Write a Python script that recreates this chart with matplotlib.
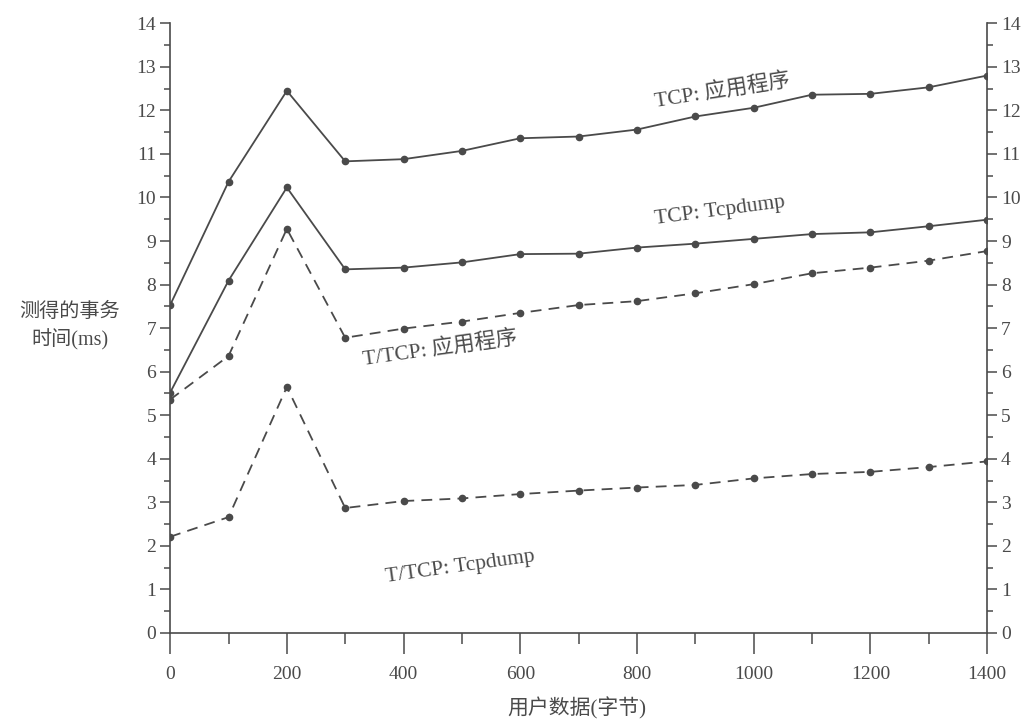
import matplotlib
matplotlib.use("Agg")
import matplotlib.pyplot as plt
from matplotlib.ticker import MultipleLocator

plt.rcParams['font.family'] = ['Liberation Serif', 'Noto Sans CJK SC']

user_bytes = [0, 100, 200, 300, 400, 500, 600, 700, 800, 900, 1000, 1100, 1200, 1300, 1400]
tcp_app = [7.53, 10.36, 12.45, 10.83, 10.88, 11.07, 11.36, 11.40, 11.56, 11.86, 12.06, 12.36, 12.38, 12.53, 12.80]
tcp_dump = [5.52, 8.09, 10.23, 8.35, 8.39, 8.51, 8.70, 8.71, 8.85, 8.94, 9.05, 9.16, 9.20, 9.34, 9.49]
ttcp_app = [5.36, 6.36, 9.28, 6.78, 6.99, 7.15, 7.35, 7.53, 7.62, 7.80, 8.01, 8.26, 8.39, 8.55, 8.77]
ttcp_dump = [2.21, 2.66, 5.65, 2.87, 3.03, 3.09, 3.19, 3.27, 3.34, 3.40, 3.55, 3.65, 3.70, 3.81, 3.94]

labels = ["TCP: 应用程序", "TCP: Tcpdump", "T/TCP: 应用程序", "T/TCP: Tcpdump"]

C = "#4a4a4a"
fig = plt.figure(figsize=(10.25, 7.28), dpi=100)
ax = fig.add_axes([0.166, 0.1305, 0.797, 0.8375])

kw = dict(color=C, lw=1.3, marker='o', ms=4.5)
ax.plot(user_bytes, tcp_app, ls='-', **kw)
ax.plot(user_bytes, tcp_dump, ls='-', **kw)
ax.plot(user_bytes, ttcp_app, ls=(0, (6, 4)), **kw)
ax.plot(user_bytes, ttcp_dump, ls=(0, (6, 4)), **kw)

ax.set_xlim(0, 1400)
ax.set_ylim(0, 14)
ax.xaxis.set_major_locator(MultipleLocator(200))
ax.xaxis.set_minor_locator(MultipleLocator(100))
ax.yaxis.set_major_locator(MultipleLocator(1))
ax.yaxis.set_minor_locator(MultipleLocator(0.5))

for s in ['left', 'right', 'bottom']:
    ax.spines[s].set_color(C)
    ax.spines[s].set_linewidth(1.2)
ax.spines['top'].set_visible(False)

ax.tick_params(axis='x', which='major', direction='out', length=15, width=1.1, color=C,
               labelcolor=C, labelsize=14, pad=9)
ax.tick_params(axis='x', which='minor', direction='out', length=8, width=1.1, color=C)
ax.tick_params(axis='y', which='major', direction='out', length=7, width=1.1, color=C,
               labelcolor=C, labelsize=14, left=True, right=True, labelleft=True, labelright=True, pad=3)
ax.tick_params(axis='y', which='minor', direction='out', length=4, width=1.1, color=C,
               left=True, right=True)

ax.text(946, 12.46, labels[0], rotation=9, color=C, fontsize=15.5, ha='center', va='center',
        rotation_mode='anchor')
ax.text(942, 9.7, labels[1], rotation=7.5, color=C, fontsize=15.5, ha='center', va='center',
        rotation_mode='anchor')
ax.text(463, 6.54, labels[2], rotation=8, color=C, fontsize=15.5, ha='center', va='center',
        rotation_mode='anchor')
ax.text(497, 1.51, labels[3], rotation=8, color=C, fontsize=15.5, ha='center', va='center',
        rotation_mode='anchor')

fig.text(0.068, 0.551, "测得的事务\n时间(ms)", color=C, fontsize=14.5, ha='center', va='center',
         linespacing=1.45)
fig.text(0.563, 0.027, "用户数据(字节)", color=C, fontsize=15, ha='center', va='center')

fig.savefig("out.png", dpi=100)
